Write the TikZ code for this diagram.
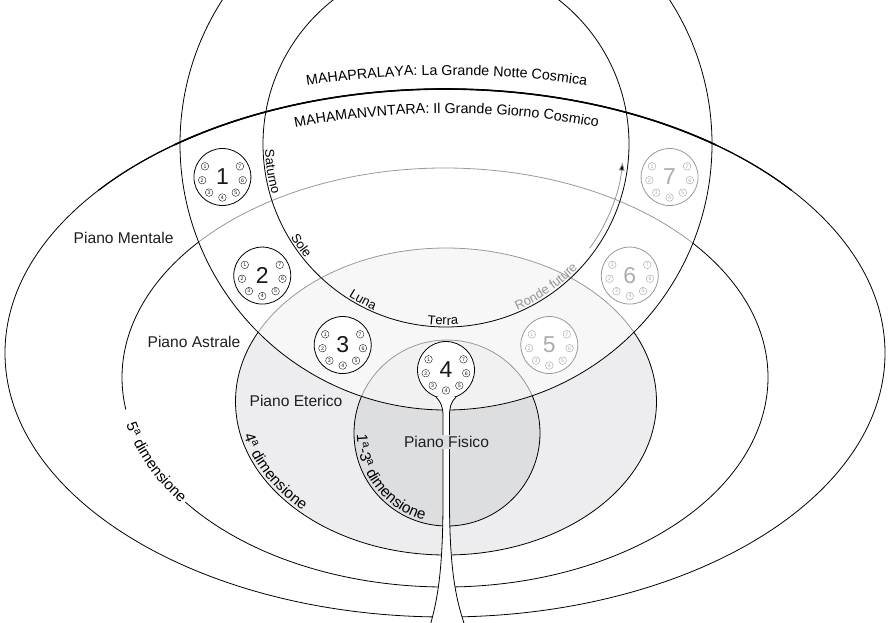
\documentclass[tikz,border=0pt]{standalone}
\usepackage{fontspec}
\setmainfont{Liberation Sans}
\usetikzlibrary{calc,decorations.text,arrows.meta}
\definecolor{eteric}{RGB}{237,237,239}
\definecolor{fisicoc}{RGB}{221,222,224}
\definecolor{futgray}{RGB}{150,150,150}
\newcommand\labfont{\fontsize{15.6}{17}\selectfont}
\newcommand\ringfont{\fontsize{12.9}{14}\selectfont}
\newcommand\mahafont{\fontsize{14.3}{16}\selectfont}
\newcommand\numfont{\fontsize{23}{24}\selectfont}
\newcommand\cdfont{\fontsize{5.2}{6}\selectfont}
\newcommand\dimfont{\fontsize{15.2}{16}\selectfont}
\newcommand\roundc[3]{%
  \pgfmathsetmacro\rang{270+(#1-4)*27.2}
  \node[roundbox, draw=#2, text=#3] (c#1) at ($(RC)+(\rang:226)$) {#1};
  \foreach \j in {1,...,7}{
    \pgfmathsetmacro\dang{270+(\j-4)*40.5}
    \node[cdigit, draw=#2, text=#3] (d#1\j) at ($(c#1)+(\dang:20.5)$) {\j};
  }%
}
\begin{document}
\begin{tikzpicture}[x=1pt,y=1pt,
  ln/.style={line width=0.8pt},
  roundbox/.style={circle, fill=white, line width=0.8pt, minimum size=57pt, inner sep=0pt, font=\numfont},
  cdigit/.style={circle, line width=0.35pt, minimum size=7.6pt, inner sep=0pt, font=\cdfont},
  plab/.style={font=\labfont, text=black!88}]
\useasboundingbox (0,0) rectangle (889,-622);
\fill[white] (0,0) rectangle (889,-622);
\clip (0,0) rectangle (889,-622);

\coordinate (RC) at (446,-144);
\coordinate (E1c) at (445,-353);
\coordinate (E2c) at (445,-377.5);
\coordinate (E3c) at (446,-401.5);
\coordinate (PFc) at (447,-433);

% planes
\filldraw[ln, fill=eteric] (E3c) ellipse[x radius=210.5, y radius=153.5];
\filldraw[ln, fill=fisicoc] (PFc) circle[radius=93];
\draw[ln] ($(E2c)+(216.5:323 and 209.5)$) arc[start angle=216.5, end angle=548.8, x radius=323, y radius=209.5];

% veil over the ring disk
\fill[white, fill opacity=0.6] (RC) circle[radius=266];

% outermost egg
\draw[ln] (E1c) ellipse[x radius=440, y radius=264];
\draw[line width=1.2pt] ($(E1c)+(142:440 and 264)$) arc[start angle=142, end angle=38, x radius=440, y radius=264];
\draw[line width=1.6pt] ($(E1c)+(128:440 and 264)$) arc[start angle=128, end angle=52, x radius=440, y radius=264];

% ring
\draw[ln] (RC) circle[radius=266];
\draw[ln] (RC) circle[radius=183];

% rounds
\roundc{1}{black}{black!90}
\roundc{2}{black}{black!90}
\roundc{3}{black}{black!90}
\roundc{4}{black}{black!90}
\roundc{5}{black!40}{black!32}
\roundc{6}{black!40}{black!32}
\roundc{7}{black!40}{black!32}

% stem
\coordinate (stemL) at (430,-626);
\coordinate (stemR) at (465,-626);
\fill[white] (c4.250) .. controls (441,-402) and (443,-407) .. (443,-416) -- (443,-500)
  .. controls (443,-570) and (437.5,-600) .. (stemL) -- (stemR)
  .. controls (456,-600) and (449.5,-570) .. (449.5,-500) -- (449.5,-416)
  .. controls (449.5,-407) and (451,-402) .. (c4.290) -- cycle;
\draw[ln] (c4.250) .. controls (441,-402) and (443,-407) .. (443,-416) -- (443,-500)
  .. controls (443,-570) and (437.5,-600) .. (stemL);
\draw[ln] (c4.290) .. controls (451,-402) and (449.5,-407) .. (449.5,-416) -- (449.5,-500)
  .. controls (449.5,-570) and (456,-600) .. (stemR);

% plane labels
\node[plab] (pm) at (123.6,-238) {Piano Mentale};
\node[plab] (pa) at (194,-342) {Piano Astrale};
\node[plab] (pe) at (296,-401) {Piano Eterico};
\node[plab, fill=fisicoc, inner sep=1.5pt] (pf) at (446.5,-442) {Piano Fisico};

% cosmic day / night
\path[decorate, decoration={text along path, text={|\mahafont|MAHAPRALAYA: La Grande Notte Cosmica}, text align=center}]
  ($(446.5,-1005)+(103:930)$) arc[start angle=103, end angle=77, radius=930];
\path[decorate, decoration={text along path, text={|\mahafont|MAHAMANVNTARA: Il Grande Giorno Cosmico}, text align=center}]
  ($(446.5,-943.3)+(104:830)$) arc[start angle=104, end angle=76, radius=830];

% ring labels (baseline just inside the inner circle)
\path[decorate, decoration={text along path, text={|\ringfont|Saturno}, text align=center}]
  ($(RC)+(164:181)$) arc[start angle=164, end angle=214, radius=181];
\path[decorate, decoration={text along path, text={|\ringfont|Sole}, text align=center}]
  ($(RC)+(190:181)$) arc[start angle=190, end angle=240, radius=181];
\path[decorate, decoration={text along path, text={|\ringfont|Luna}, text align=center}]
  ($(RC)+(217:181)$) arc[start angle=217, end angle=267, radius=181];
\path[decorate, decoration={text along path, text={|\ringfont|Terra}, text align=center}]
  ($(RC)+(244:181)$) arc[start angle=244, end angle=294, radius=181];
\path[decorate, decoration={text along path, text={|\ringfont|Ronde future}, text align=center, text color=futgray}]
  ($(RC)+(280:181)$) arc[start angle=280, end angle=330, radius=181];
\draw[line width=0.8pt, draw=futgray, -{Triangle[length=8pt,width=5.5pt]}]
  ($(RC)+(324:177.5)$) arc[start angle=324, end angle=354, radius=177.5];

% dimensions (paths laid on the baselines)
\path[decorate, decoration={text along path, text={|\dimfont|5{\textsuperscript{a}} dimensione}, text align=center}]
  ($(E2c)+(183:327 and 213.5)$) arc[start angle=183, end angle=224, x radius=327, y radius=213.5];
\path[decorate, decoration={text along path, text={|\dimfont|4{\textsuperscript{a}} dimensione}, text align=center}]
  ($(E3c)+(180:207.5 and 150.5)$) arc[start angle=180, end angle=237, x radius=207.5, y radius=150.5];
\path[decorate, decoration={text along path, text={|\dimfont|1{\textsuperscript{a}}-3{\textsuperscript{a}} dimensione}, text align=center}]
  ($(PFc)+(172:90)$) arc[start angle=172, end angle=264, radius=90];
\end{tikzpicture}
\end{document}
